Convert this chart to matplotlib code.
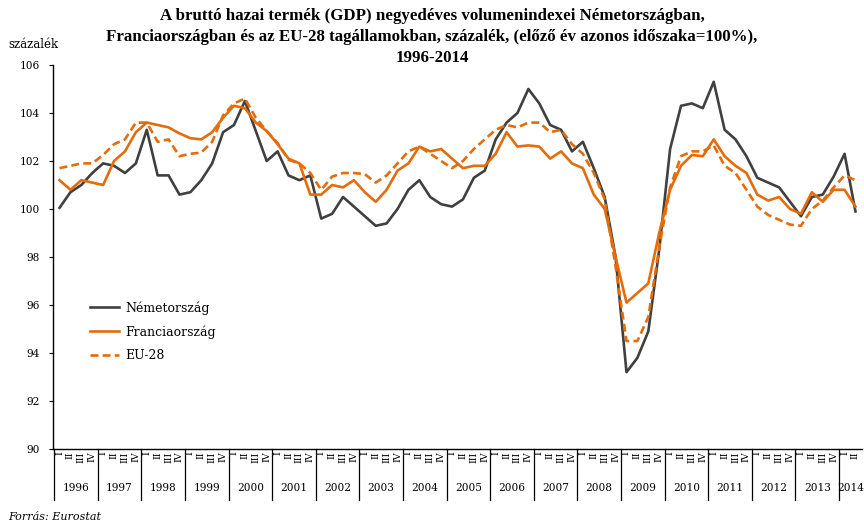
"""
GDP volume indices (same period of previous year = 100%), DE / FR / EU-28, 1996-2014.
"""

import matplotlib
matplotlib.use("Agg")
import matplotlib.pyplot as plt
import matplotlib.transforms as mtransforms

# ------------------------------------------------------------
# Data (quarterly, 1996Q1 .. 2014Q2)
# ------------------------------------------------------------
years = [str(y) for y in range(1996, 2015)]
quarter_labels = ["I", "II", "III", "IV"]

germany = [100.05, 100.7, 101.0, 101.5, 101.9, 101.8, 101.5, 101.9,
           103.3, 101.4, 101.4, 100.6, 100.7, 101.2, 101.9, 103.2,
           103.5, 104.5, 103.25, 102.0, 102.4, 101.4, 101.2, 101.4,
           99.6, 99.8, 100.5, 100.1, 99.7, 99.3, 99.4, 100.0,
           100.8, 101.2, 100.5, 100.2, 100.1, 100.4, 101.3, 101.6,
           102.9, 103.6, 104.0, 105.0, 104.4, 103.5, 103.3, 102.4,
           102.8, 101.7, 100.5, 98.0, 93.2, 93.8, 94.9, 98.3,
           102.5, 104.3, 104.4, 104.2, 105.3, 103.3, 102.9, 102.2,
           101.3, 101.1, 100.9, 100.3, 99.7, 100.5, 100.6, 101.35,
           102.3, 99.9]

france = [101.2, 100.8, 101.2, 101.1, 101.0, 102.0, 102.4, 103.2,
          103.6, 103.5, 103.4, 103.15, 102.95, 102.9, 103.2, 103.8,
          104.3, 104.2, 103.6, 103.25, 102.7, 102.1, 101.9, 100.6,
          100.6, 101.0, 100.9, 101.2, 100.7, 100.3, 100.8, 101.6,
          101.9, 102.6, 102.4, 102.5, 102.1, 101.7, 101.8, 101.8,
          102.3, 103.2, 102.6, 102.65, 102.6, 102.1, 102.4, 101.9,
          101.7, 100.6, 100.0, 98.0, 96.1, 96.5, 96.9, 99.0,
          100.8, 101.8, 102.25, 102.2, 102.9, 102.2, 101.8, 101.5,
          100.6, 100.35, 100.5, 100.0, 99.8, 100.7, 100.3, 100.8,
          100.8, 100.1]

eu28 = [101.7, 101.8, 101.9, 101.9, 102.25, 102.7, 102.9, 103.6,
        103.6, 102.8, 102.9, 102.2, 102.3, 102.35, 102.8, 103.9,
        104.4, 104.6, 103.8, 103.25, 102.75, 102.05, 101.9, 101.5,
        100.8, 101.35, 101.5, 101.5, 101.45, 101.1, 101.4, 101.9,
        102.4, 102.6, 102.3, 102.0, 101.7, 102.0, 102.5, 102.9,
        103.3, 103.5, 103.4, 103.6, 103.6, 103.2, 103.3, 102.7,
        102.3, 101.5, 100.4, 97.6, 94.5, 94.5, 95.5, 98.4,
        100.9, 102.2, 102.4, 102.4, 102.65, 101.8, 101.5, 100.8,
        100.1, 99.75, 99.55, 99.35, 99.3, 100.0, 100.35, 100.9,
        101.4, 101.2]

DARK = "#404040"
ORANGE = "#E46C0A"

plt.rcParams["font.family"] = ["DejaVu Serif"]

# ------------------------------------------------------------
# Figure
# ------------------------------------------------------------
fig = plt.figure(figsize=(8.64, 5.25), dpi=100)
ax = fig.add_axes([53 / 864, 76 / 525, 809 / 864, 384 / 525])

x = list(range(len(germany)))
ax.plot(x, germany, color=DARK, lw=1.9, label="Németország")
ax.plot(x, france, color=ORANGE, lw=1.9, label="Franciaország")
ax.plot(x, eu28, color=ORANGE, lw=1.9, ls=(0, (3, 1.6)), label="EU-28")

ax.set_xlim(-0.6, 73.6)
ax.set_ylim(90, 106)
ax.set_yticks(range(90, 107, 2))
ax.tick_params(axis="y", direction="out", length=3, labelsize=7.6, pad=6.5)
ax.set_xticks([])

for side in ["top", "right"]:
    ax.spines[side].set_visible(False)
ax.spines["left"].set_linewidth(1.0)
ax.spines["bottom"].set_linewidth(1.0)

# category axis: quarters + year groups
trans = mtransforms.blended_transform_factory(ax.transData, ax.transAxes)
for i in range(len(germany)):
    ax.text(i, -0.006, quarter_labels[i % 4], transform=trans, rotation=90,
            ha="center", va="top", fontsize=6.8, clip_on=False)
for k, yr in enumerate(years):
    left = 4 * k - 0.5
    ax.plot([left, left], [0, -0.133], transform=trans, color="black",
            lw=0.9, clip_on=False)
    center = min(4 * k + 1.5, 72.6)
    ax.text(center, -0.102, yr, transform=trans, ha="center", va="center",
            fontsize=7.6, clip_on=False)

leg = ax.legend(loc="upper left", bbox_to_anchor=(0.046, 0.385), frameon=False,
                fontsize=9, handlelength=2.3, handletextpad=0.5,
                labelspacing=0.85, borderpad=0, borderaxespad=0)

fig.text(0.5, 1 - 8 / 525,
         "A bruttó hazai termék (GDP) negyedéves volumenindexei Németországban,\n"
         "Franciaországban és az EU-28 tagállamokban, százalék, (előző év azonos időszaka=100%),\n"
         "1996-2014",
         ha="center", va="top", fontsize=12.2, fontweight="bold", linespacing=1.42,
         family=["Liberation Serif", "DejaVu Serif"])
fig.text(8 / 864, 1 - 44 / 525, "százalék", ha="left", va="center", fontsize=8.5)
fig.text(8 / 864, 1 - 517 / 525, "Forrás: Eurostat", ha="left", va="center",
         fontsize=8, style="italic")

fig.savefig("out.png", dpi=100)
